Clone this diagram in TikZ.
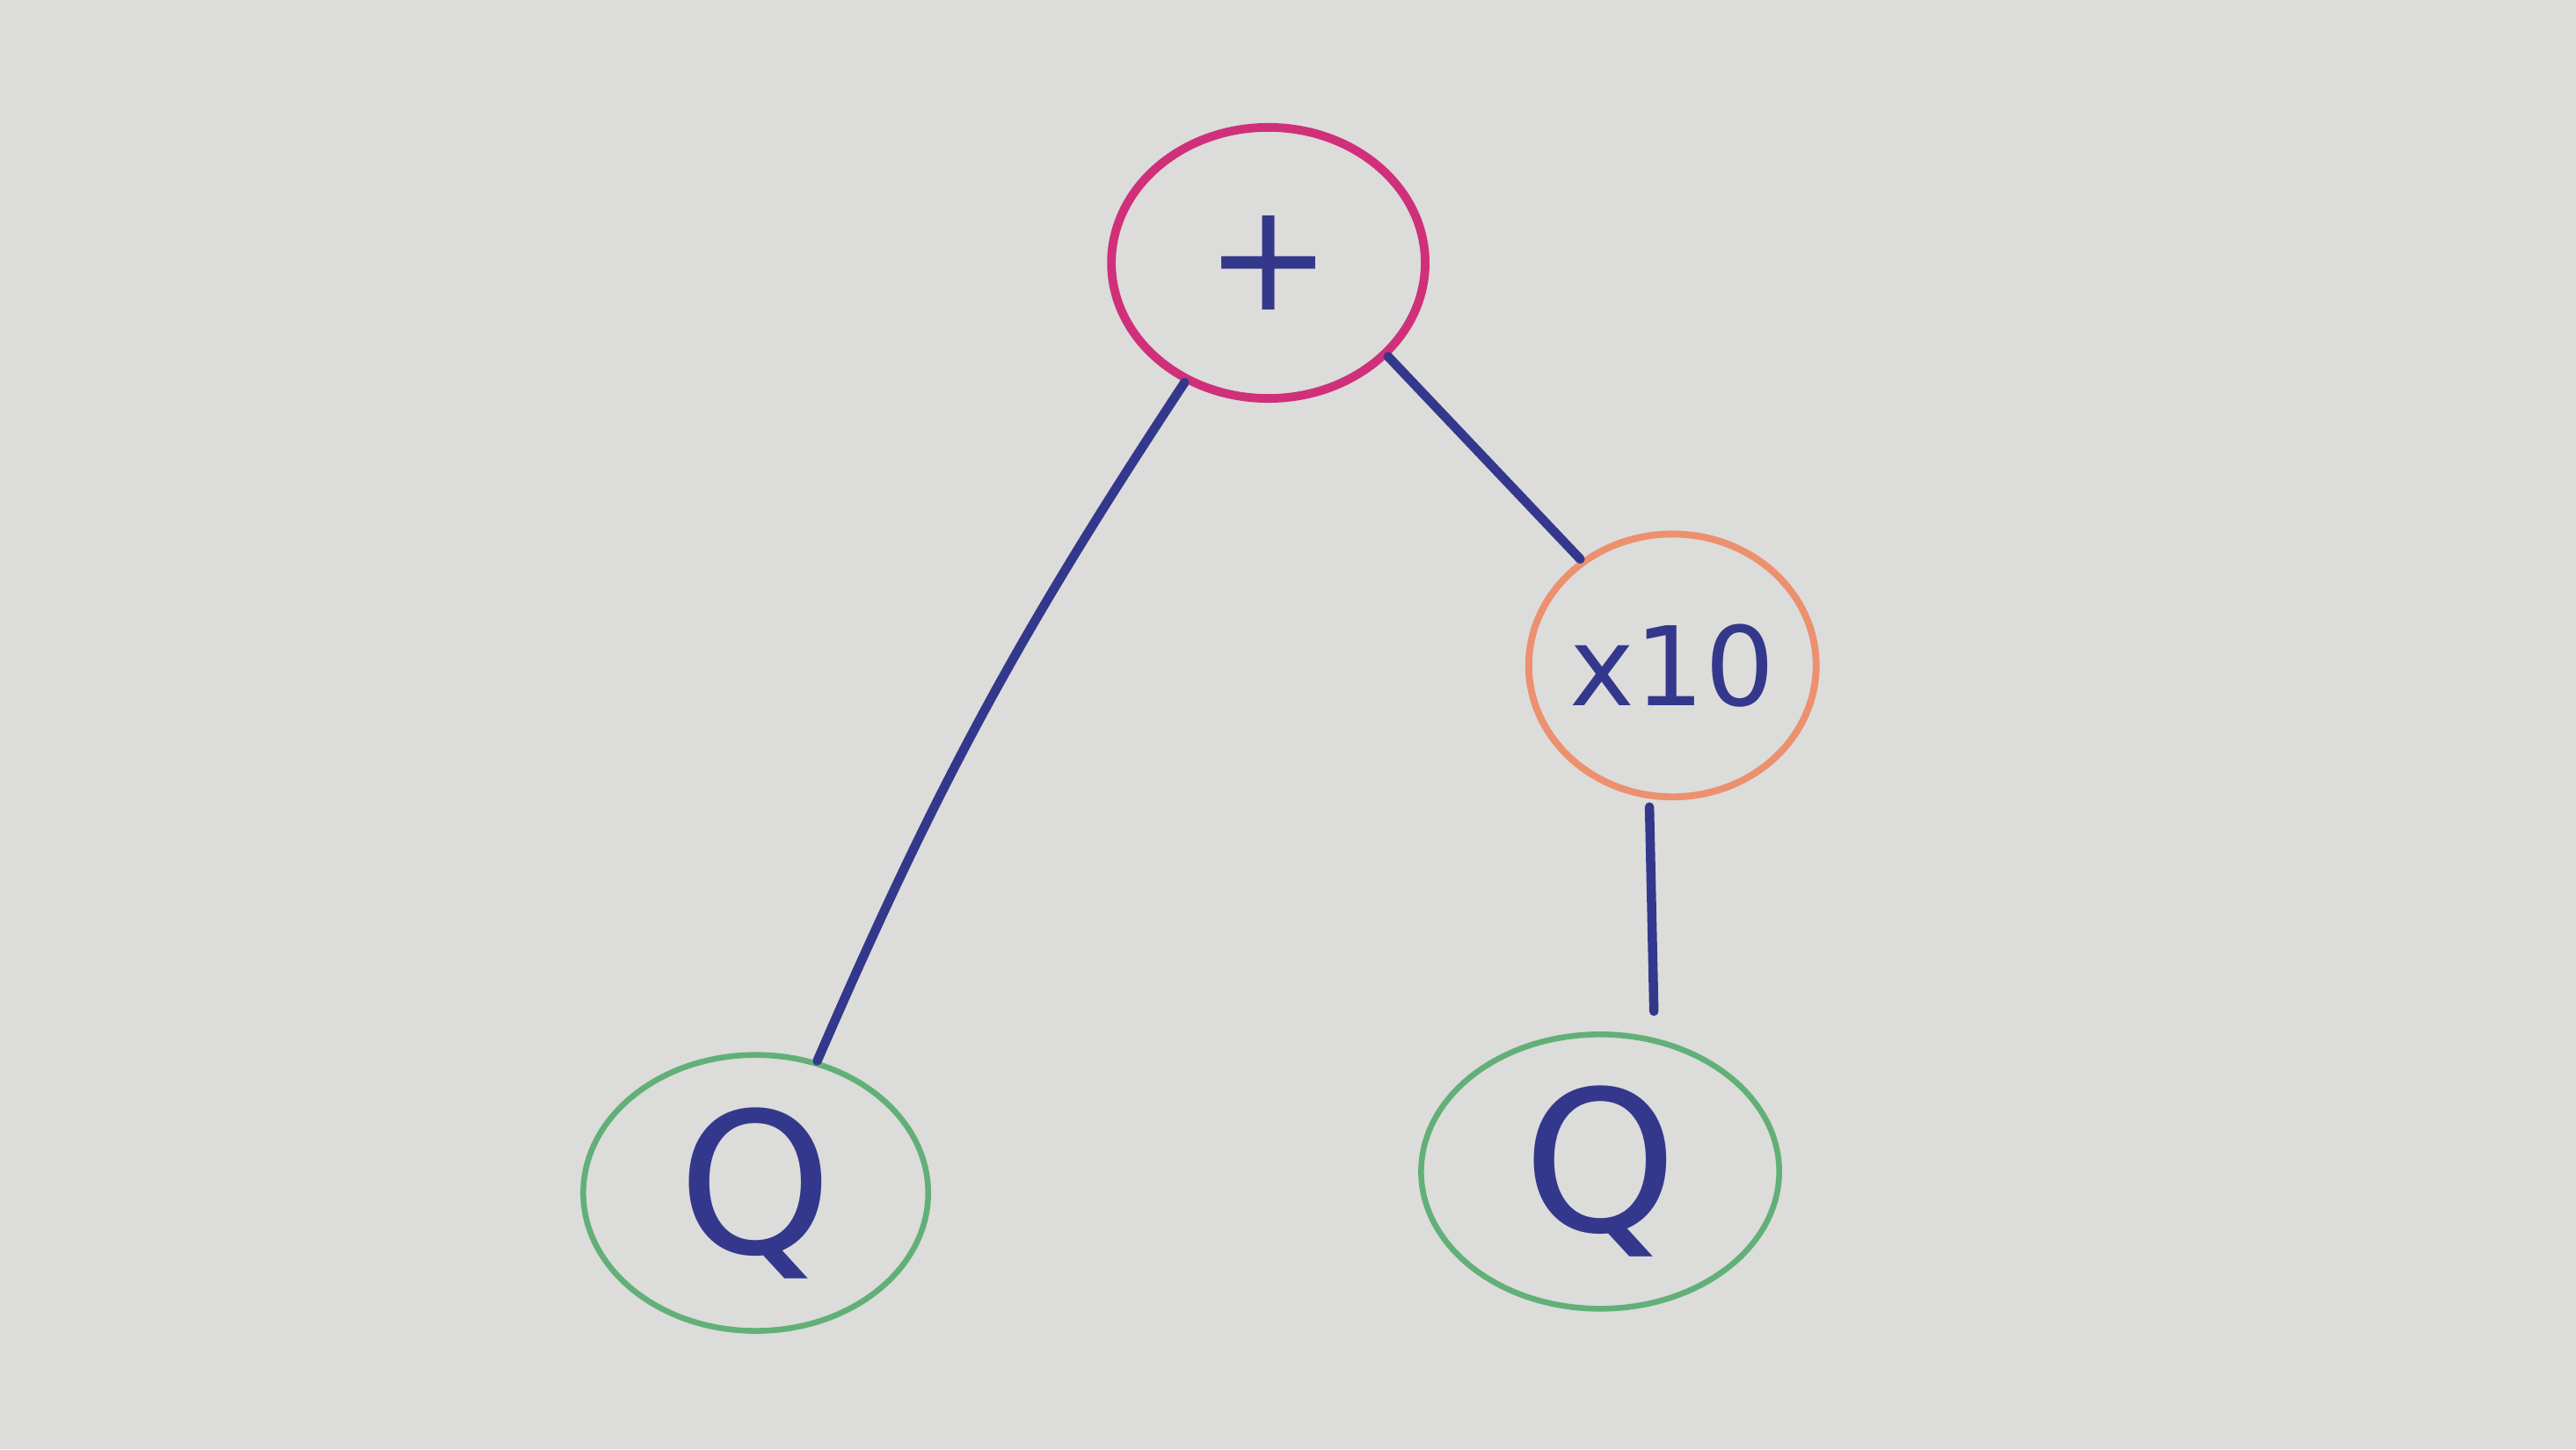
\documentclass[tikz,border=0pt]{standalone}
\usepackage{fontspec}
\setmainfont{DejaVu Sans}
\usetikzlibrary{shapes.geometric}
\definecolor{paper}{HTML}{DCDCDA}
\definecolor{pinkpen}{HTML}{D0307A}
\definecolor{orangepen}{HTML}{EC9070}
\definecolor{greenpen}{HTML}{62B078}
\definecolor{bluepen}{HTML}{34388C}
\tikzset{
  opnode/.style={ellipse, draw, inner sep=0pt, text=bluepen},
  edge/.style={draw=bluepen, line width=3.2pt, line cap=round},
}
\begin{document}
\begin{tikzpicture}[x=0.02cm, y=-0.02cm]
\fill[paper] (0,0) rectangle (1568,882);
\useasboundingbox (0,0) rectangle (1568,882);
\node[opnode, draw=pinkpen, line width=3pt, minimum width=3.82cm, minimum height=3.3cm,
      font=\fontsize{52}{54}\selectfont] (plus) at (772,160) {+};
\node[opnode, draw=orangepen, line width=2.4pt, minimum width=3.5cm, minimum height=3.2cm,
      inner xsep=-14pt, font=\fontsize{38}{40}\selectfont] (times) at (1018,405) {x10};
\node[opnode, draw=greenpen, line width=2pt, minimum width=4.2cm, minimum height=3.36cm,
      font=\fontsize{68}{70}\selectfont] (qa) at (460,726) {Q};
\node[opnode, draw=greenpen, line width=2pt, minimum width=4.36cm, minimum height=3.34cm,
      font=\fontsize{68}{70}\selectfont] (qb) at (974,713) {Q};
\draw[edge] (plus.235) to[bend right=5] (qa.65);
\draw[edge] (plus.-38) -- ([shift={(-4,2)}]times.128);
\draw[edge, shorten >=7pt] ([shift={(-14,4)}]times.south) -- ([shift={(33,0)}]qb.north);
\end{tikzpicture}
\end{document}
